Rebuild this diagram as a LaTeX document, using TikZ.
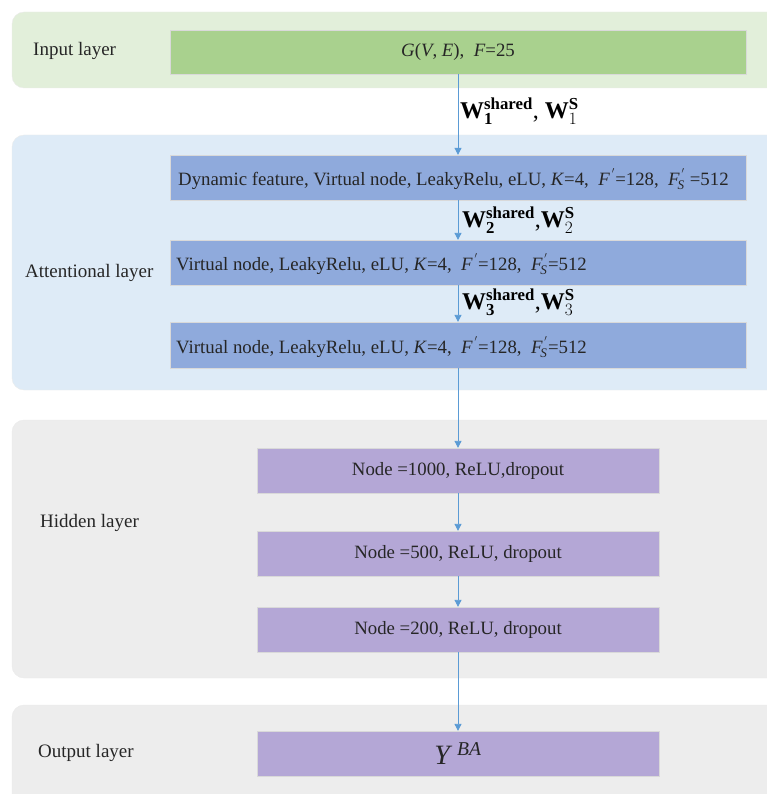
\documentclass[tikz,border=0pt]{standalone}
\usepackage{amsmath}
\usepackage{fontspec}
\setmainfont{Liberation Serif}
\usetikzlibrary{arrows.meta}
\definecolor{pgreen}{HTML}{E2EFDA}
\definecolor{bgreen}{HTML}{A9D18E}
\definecolor{pblue}{HTML}{DEEBF7}
\definecolor{bblue}{HTML}{8FAADC}
\definecolor{pgray}{HTML}{EDEDED}
\definecolor{bpurple}{HTML}{B4A7D6}
\definecolor{arr}{HTML}{5B9BD5}
\tikzset{
  panel/.style={rounded corners=12pt, draw=black!8},
  box/.style={inner sep=0pt, draw=white!70!gray, line width=0.3pt},
  lbl/.style={anchor=west, font=\fontsize{19}{21}\selectfont, text=black!85, inner sep=0pt},
  txt/.style={font=\fontsize{18.8}{21}\selectfont, text=black!85, inner sep=0pt},
  wl/.style={anchor=west, font=\fontsize{24}{26}\selectfont, inner sep=0pt},
  conn/.style={draw=arr, line width=0.8pt, -{Triangle[width=7pt,length=7pt]}}
}
\begin{document}
\begin{tikzpicture}[x=1pt,y=-1pt]
\useasboundingbox (0,0) rectangle (767,794);
% panels
\fill[panel, fill=pgreen] (12,12) rectangle (790,88);
\fill[panel, fill=pblue] (12,135) rectangle (790,390);
\fill[panel, fill=pgray] (12,420) rectangle (790,678);
\fill[panel, fill=pgray] (12,705) rectangle (790,820);
% labels
\node[lbl] (linput) at (33,51) {Input layer};
\node[lbl] (latt) at (25,273) {Attentional layer};
\node[lbl] (lhid) at (40,523) {Hidden layer};
\node[lbl] (lout) at (38,753) {Output layer};
% boxes
\node[box, fill=bgreen, minimum width=576pt, minimum height=44pt] (in) at (458,52) {};
\node[txt] at (in.center) {\textit{G}(\textit{V}, \textit{E}), \ \textit{F}=25};
\node[box, fill=bblue, minimum width=576pt, minimum height=45pt] (a1) at (458,177.5) {};
\node[box, fill=bblue, minimum width=576pt, minimum height=45pt] (a2) at (458,262.5) {};
\node[box, fill=bblue, minimum width=576pt, minimum height=46pt] (a3) at (458,345) {};
\node[txt, anchor=west] (t1) at (178,179) {Dynamic feature, Virtual node, LeakyRelu, eLU, \textit{K}=4, \ $\textit{F}^{\,'}$=128, \ $\textit{F}^{\,'}_{\!\textit{S}}$ =512};
\node[txt, anchor=west] (t2) at (176,264) {Virtual node, LeakyRelu, eLU, \textit{K}=4, \ $\textit{F}^{\,'}$=128, \ $\textit{F}^{\,'}_{\!\textit{S}}$=512};
\node[txt, anchor=west] (t3) at (176,347) {Virtual node, LeakyRelu, eLU, \textit{K}=4, \ $\textit{F}^{\,'}$=128, \ $\textit{F}^{\,'}_{\!\textit{S}}$=512};
\node[box, fill=bpurple, minimum width=402pt, minimum height=45pt] (h1) at (458,470.5) {};
\node[box, fill=bpurple, minimum width=402pt, minimum height=45pt] (h2) at (458,553.5) {};
\node[box, fill=bpurple, minimum width=402pt, minimum height=45pt] (h3) at (458,629.5) {};
\node[txt] at (h1.center) {Node =1000, ReLU,dropout};
\node[txt] at (h2.center) {Node =500, ReLU, dropout};
\node[txt] at (h3.center) {Node =200, ReLU, dropout};
\node[box, fill=bpurple, minimum width=402pt, minimum height=45pt] (o) at (458,753.5) {};
\node[font=\fontsize{28}{30}\selectfont, text=black!85] at (o.center) {\textit{Y}\,$^{\textit{BA}}$};
% connectors
\draw[conn] (in.south) -- (a1.north);
\draw[conn] (a1.south) -- (a2.north);
\draw[conn] (a2.south) -- (a3.north);
\draw[conn] (a3.south) -- (h1.north);
\draw[conn] (h1.south) -- (h2.north);
\draw[conn] (h2.south) -- (h3.north);
\draw[conn] (h3.south) -- (o.north);
% weight labels
\node[wl] (w1) at (460,111) {$\textbf{W}^{\textbf{shared}}_{\textbf{1}}$, $\textbf{W}^{\textbf{S}}_{1}$};
\node[wl] (w2) at (462,220) {$\textbf{W}^{\textbf{shared}}_{\textbf{2}}$,$\textbf{W}^{\textbf{S}}_{2}$};
\node[wl] (w3) at (462,302) {$\textbf{W}^{\textbf{shared}}_{\textbf{3}}$,$\textbf{W}^{\textbf{S}}_{3}$};
\end{tikzpicture}
\end{document}
